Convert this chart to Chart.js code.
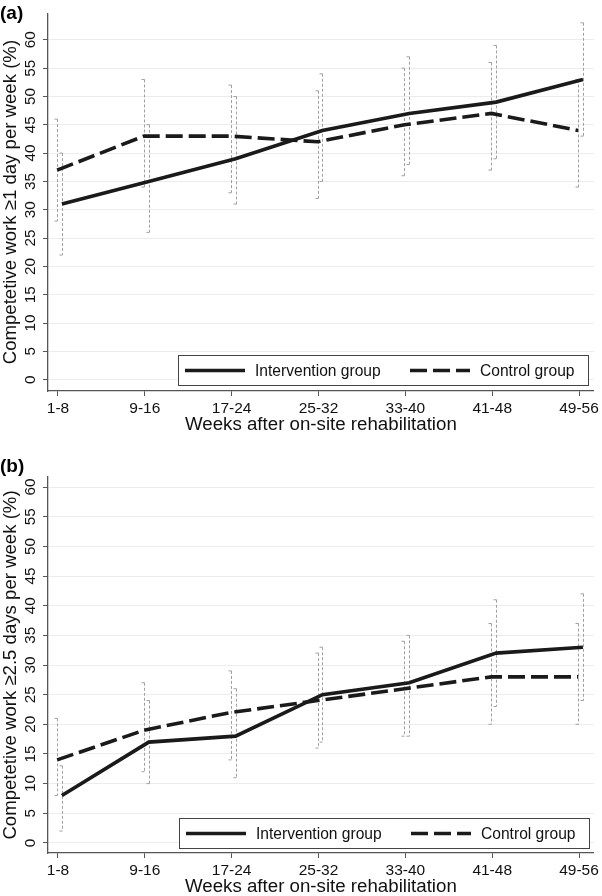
<!DOCTYPE html>
<html>
<head>
<meta charset="utf-8">
<script src="https://cdn.jsdelivr.net/npm/chart.js@4.4.1/dist/chart.umd.min.js"></script>
<style>
  html, body { margin: 0; padding: 0; background: #fff; }
  .panel { width: 602px; height: 448px; }
  canvas { display: block; }
</style>
</head>
<body>
<div class="panel"><canvas id="chartA" width="602" height="448"></canvas></div>
<div class="panel"><canvas id="chartB" width="602" height="448"></canvas></div>
<script>
const weeks = ["1-8", "9-16", "17-24", "25-32", "33-40", "41-48", "49-56"];
const yTicks = [0, 5, 10, 15, 20, 25, 30, 35, 40, 45, 50, 55, 60];

// (a) competitive work >= 1 day per week
const interventionA = [31, 35, 39, 44, 47, 49, 53];
const controlA = [37, 43, 43, 42, 45, 47, 44];
const interventionLowA = [22, 26, 31, 35, 38, 39, 43];
const interventionHighA = [40, 45, 50, 54, 57, 59, 63];
const controlLowA = [28, 34, 33, 32, 36, 37, 34];
const controlHighA = [46, 53, 52, 51, 55, 56, 53];

// (b) competitive work >= 2.5 days per week
const interventionB = [8, 17, 18, 25, 27, 32, 33];
const controlB = [14, 19, 22, 24, 26, 28, 28];
const interventionLowB = [2, 10, 11, 17, 18, 23, 24];
const interventionHighB = [13, 24, 26, 33, 35, 41, 42];
const controlLowB = [8, 12, 14, 16, 18, 20, 20];
const controlHighB = [21, 27, 29, 32, 34, 37, 37];

const FONT = '"Liberation Sans", Arial, Helvetica, sans-serif';
const INK = "#111";
const AXIS = "#555";
// small horizontal jitter Stata used between the two groups
const intShift = 0.045;
const ctlShift = -0.01;

function toPoints(values, shift) {
  return values.map((v, i) => ({ x: i + 1 + shift, y: v }));
}

function makeChart(id, p) {
  const ciBars = {
    id: "ciBars",
    beforeDatasetsDraw(chart) {
      const { ctx, scales: { x, y } } = chart;
      ctx.save();
      ctx.strokeStyle = "#a0a0a0";
      ctx.lineWidth = 1;
      ctx.setLineDash([3, 2]);
      p.bars.forEach(b => {
        b.low.forEach((lo, i) => {
          const px = Math.round(x.getPixelForValue(i + 1 + b.shift)) + 0.5;
          const top = y.getPixelForValue(b.high[i]);
          const bot = y.getPixelForValue(lo);
          ctx.beginPath();
          ctx.moveTo(px, top); ctx.lineTo(px, bot);
          ctx.moveTo(px - 3, top); ctx.lineTo(px + 0.5, top);
          ctx.moveTo(px - 3, bot); ctx.lineTo(px + 0.5, bot);
          ctx.stroke();
        });
      });
      ctx.restore();
    }
  };

  const legendBox = {
    id: "legendBox",
    afterDatasetsDraw(chart) {
      const { ctx, chartArea: a } = chart;
      const w = 410, h = 30;
      const left = Math.round(a.right - p.legendGap - w);
      const top = Math.round(a.bottom - p.legendGap - h);
      ctx.save();
      ctx.fillStyle = "#fff";
      ctx.fillRect(left, top, w, h);
      ctx.strokeStyle = "#444";
      ctx.lineWidth = 1;
      ctx.strokeRect(left + 0.5, top + 0.5, w, h);
      const mid = top + h / 2 + 0.5;
      chart.data.datasets.forEach((ds, k) => {
        const sx = left + (k ? 232 : 7);
        ctx.strokeStyle = ds.borderColor;
        ctx.lineWidth = ds.borderWidth;
        ctx.setLineDash(ds.borderDash || []);
        ctx.beginPath();
        ctx.moveTo(sx, mid); ctx.lineTo(sx + 60, mid);
        ctx.stroke();
        ctx.setLineDash([]);
        ctx.fillStyle = INK;
        ctx.font = "15.6px " + FONT;
        ctx.textBaseline = "middle";
        ctx.fillText(ds.label, sx + 70, mid + 1);
      });
      ctx.restore();
    }
  };

  return new Chart(document.getElementById(id), {
    type: "line",
    data: {
      datasets: [
        {
          label: "Intervention group",
          data: toPoints(p.intervention, intShift),
          borderColor: "#1a1a1a",
          borderWidth: 3.6,
          pointRadius: 0,
          tension: 0
        },
        {
          label: "Control group",
          data: toPoints(p.control, ctlShift),
          borderColor: "#1a1a1a",
          borderWidth: 3.6,
          borderDash: [17, 6],
          pointRadius: 0,
          tension: 0
        }
      ]
    },
    options: {
      responsive: false,
      animation: false,
      layout: { padding: { left: 0, right: 5, top: 0, bottom: 0 } },
      plugins: {
        legend: { display: false },
        tooltip: { enabled: false },
        title: {
          display: true,
          text: p.tag,
          align: "start",
          color: "#000",
          font: { family: FONT, size: 19, weight: "bold" },
          padding: p.tagPad
        }
      },
      scales: {
        x: {
          type: "linear",
          min: 0.885,
          max: 7.17,
          afterBuildTicks: s => { s.ticks = weeks.map((w, i) => ({ value: i + 1 })); },
          afterFit: s => { s.height = p.xHeight; },
          grid: { drawOnChartArea: false, tickLength: 5, tickColor: AXIS },
          border: { color: AXIS, width: 1.3 },
          ticks: {
            autoSkip: false,
            maxRotation: 0,
            padding: 3,
            color: INK,
            font: { family: FONT, size: 15.5 },
            callback: v => weeks[v - 1]
          },
          title: {
            display: true,
            text: "Weeks after on-site rehabilitation",
            color: INK,
            font: { family: FONT, size: 18.7 },
            padding: { top: 0, bottom: p.xTitlePad }
          }
        },
        y: {
          min: p.yMin,
          max: p.yMax,
          afterBuildTicks: s => { s.ticks = yTicks.map(v => ({ value: v })); },
          afterFit: s => { s.width = 48; },
          grid: { color: "#ececec", lineWidth: 1, tickLength: 5, tickColor: AXIS },
          border: { color: AXIS, width: 1.3 },
          ticks: {
            autoSkip: false,
            minRotation: 90,
            maxRotation: 90,
            crossAlign: "center",
            padding: 4,
            color: INK,
            font: { family: FONT, size: 15.3 }
          },
          title: {
            display: true,
            text: p.yTitle,
            color: INK,
            font: { family: FONT, size: 18.6 },
            padding: { top: 0, bottom: 0 }
          }
        }
      }
    },
    plugins: [ciBars, legendBox]
  });
}

makeChart("chartA", {
  tag: "(a)",
  tagPad: { top: 2, bottom: -11.8 },
  yTitle: "Competetive work \u22651 day per week (%)",
  yMin: -2, yMax: 64.7,
  xHeight: 57, xTitlePad: 12.3,
  legendGap: 6,
  intervention: interventionA,
  control: controlA,
  bars: [
    { low: controlLowA, high: controlHighA, shift: ctlShift },
    { low: interventionLowA, high: interventionHighA, shift: intShift }
  ]
});

makeChart("chartB", {
  tag: "(b)",
  tagPad: { top: 7.5, bottom: -1.3 },
  yTitle: "Competetive work \u22652.5 days per week (%)",
  yMin: -1.7, yMax: 61.7,
  xHeight: 43, xTitlePad: -1.8,
  legendGap: 5,
  intervention: interventionB,
  control: controlB,
  bars: [
    { low: controlLowB, high: controlHighB, shift: ctlShift },
    { low: interventionLowB, high: interventionHighB, shift: intShift }
  ]
});
</script>
</body>
</html>
